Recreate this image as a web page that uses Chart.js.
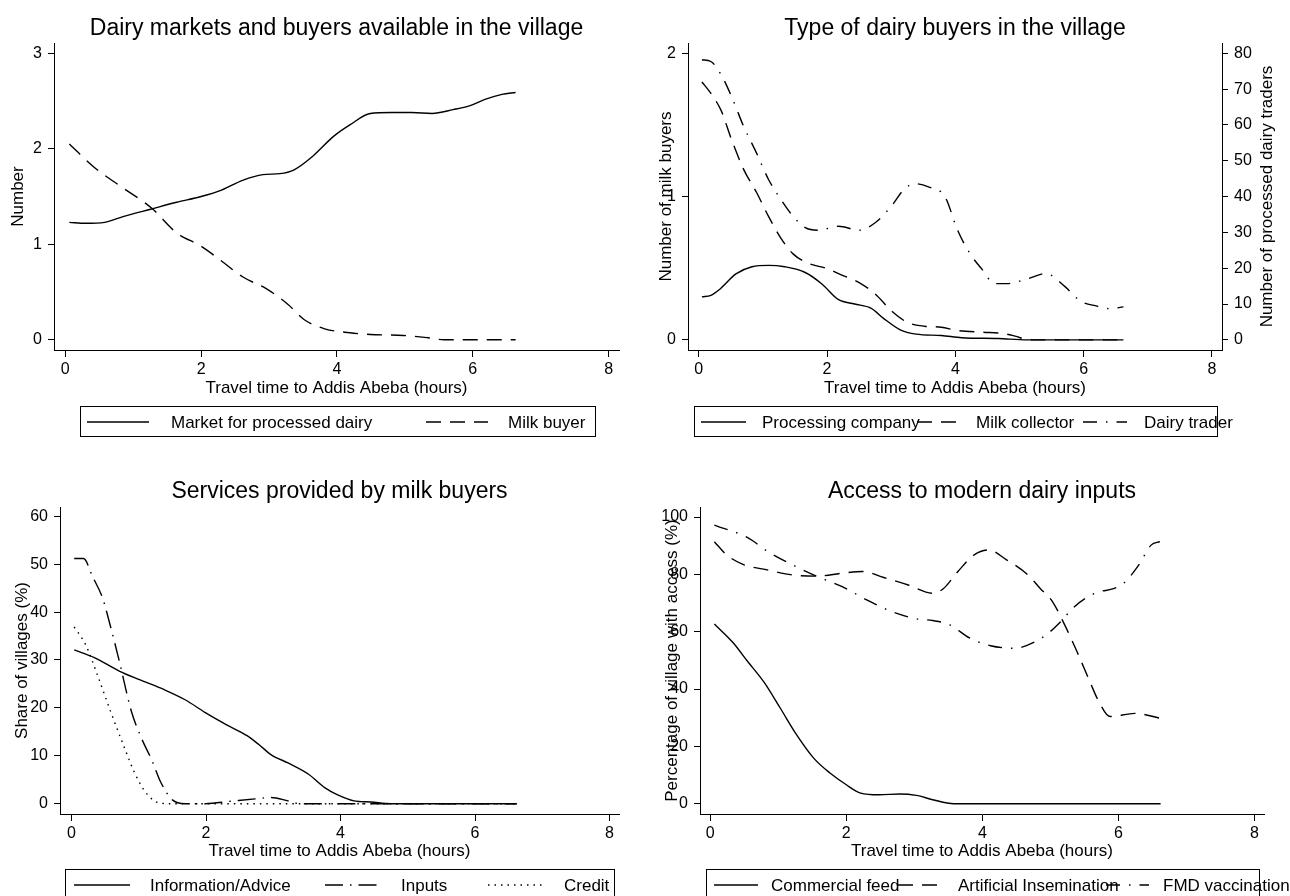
<!DOCTYPE html>
<html>
<head>
<meta charset="utf-8">
<script src="https://cdn.jsdelivr.net/npm/chart.js@4.4.1/dist/chart.umd.min.js"></script>
<style>
  html, body { margin: 0; padding: 0; background: #fff; }
  .board { position: relative; width: 1290px; height: 896px; overflow: hidden; }
  .board canvas { position: absolute; }
</style>
</head>
<body>
<div class="board">
  <canvas id="markets" width="645" height="448" style="left:0;top:0"></canvas>
  <canvas id="buyers" width="645" height="448" style="left:645px;top:0"></canvas>
  <canvas id="services" width="645" height="448" style="left:0;top:448px"></canvas>
  <canvas id="inputs" width="645" height="448" style="left:645px;top:448px"></canvas>
</div>
<script>
// ---- Shared axis ticks ----
const hourTicks = [0, 2, 4, 6, 8];
const numberTicks = [0, 1, 2, 3];
const buyerTicks = [0, 1, 2];
const traderTicks = [0, 10, 20, 30, 40, 50, 60, 70, 80];
const shareTicks = [0, 10, 20, 30, 40, 50, 60];
const pctTicks = [0, 20, 40, 60, 80, 100];

// ---- Dairy markets and buyers available in the village ----
const marketHours = [0.06, 0.30, 0.58, 0.85, 1.27, 1.64, 2.00, 2.31, 2.61, 2.91, 3.16, 3.37, 3.64, 3.95, 4.19, 4.49, 4.80, 5.10, 5.40, 5.71, 5.95, 6.19, 6.43, 6.63];
const marketProcessed = [1.23, 1.22, 1.23, 1.29, 1.37, 1.44, 1.50, 1.57, 1.67, 1.73, 1.74, 1.78, 1.92, 2.13, 2.25, 2.37, 2.38, 2.38, 2.37, 2.41, 2.45, 2.52, 2.57, 2.59];
const buyerHours = [0.06, 0.42, 0.85, 1.27, 1.64, 2.00, 2.31, 2.61, 2.97, 3.28, 3.52, 3.82, 4.19, 4.49, 4.98, 5.34, 5.58, 6.63];
const milkBuyer = [2.05, 1.81, 1.59, 1.38, 1.12, 0.98, 0.82, 0.66, 0.53, 0.37, 0.21, 0.115, 0.073, 0.056, 0.045, 0.021, 0, 0];

// ---- Type of dairy buyers in the village ----
const companyHours = [0.05, 0.19, 0.32, 0.58, 0.83, 1.09, 1.34, 1.66, 1.92, 2.18, 2.43, 2.69, 2.88, 3.14, 3.39, 3.78, 4.10, 4.67, 5.12, 6.62];
const processingCompany = [0.30, 0.31, 0.35, 0.46, 0.51, 0.52, 0.51, 0.47, 0.39, 0.28, 0.25, 0.22, 0.15, 0.07, 0.04, 0.03, 0.015, 0.009, 0, 0];
const collectorHours = [0.05, 0.19, 0.35, 0.51, 0.70, 0.90, 1.09, 1.28, 1.47, 1.73, 1.98, 2.24, 2.50, 2.75, 3.01, 3.26, 3.52, 3.78, 4.03, 4.42, 4.74, 4.93, 5.15, 6.62];
const milkCollector = [1.80, 1.72, 1.60, 1.40, 1.19, 1.03, 0.86, 0.71, 0.60, 0.53, 0.50, 0.45, 0.40, 0.32, 0.20, 0.12, 0.095, 0.088, 0.065, 0.053, 0.044, 0.026, 0, 0];
const traderHours = [0.05, 0.19, 0.35, 0.51, 0.70, 0.90, 1.09, 1.28, 1.47, 1.66, 1.86, 2.18, 2.50, 2.75, 3.01, 3.20, 3.36, 3.58, 3.84, 4.03, 4.22, 4.42, 4.61, 4.80, 5.12, 5.41, 5.70, 5.95, 6.21, 6.40, 6.62];
const dairyTrader = [78.2, 77.7, 74.0, 68.0, 59.6, 52.2, 44.7, 39.2, 34.5, 31.3, 30.6, 31.7, 30.6, 32.7, 37.5, 42.0, 43.6, 42.7, 39.9, 30.8, 24.3, 19.6, 15.7, 15.7, 17.0, 18.5, 15.0, 10.8, 9.4, 8.7, 9.2];

// ---- Services provided by milk buyers ----
const adviceHours = [0.04, 0.34, 0.71, 1.01, 1.38, 1.69, 1.99, 2.30, 2.61, 2.79, 2.97, 3.22, 3.53, 3.77, 3.95, 4.20, 4.45, 4.75, 6.62];
const informationAdvice = [32.1, 30.5, 27.7, 25.9, 23.8, 21.7, 19.0, 16.5, 14.2, 12.3, 10.2, 8.5, 6.1, 3.3, 1.9, 0.6, 0.35, 0, 0];
const inputHours = [0.04, 0.18, 0.31, 0.46, 0.58, 0.71, 0.89, 1.04, 1.20, 1.32, 1.50, 1.69, 1.99, 2.36, 2.73, 2.97, 3.22, 3.40, 6.62];
const inputsShare = [51.2, 51.2, 47.5, 43.0, 37.0, 29.8, 19.3, 13.7, 8.9, 4.7, 0.8, 0, 0, 0.5, 1.0, 1.3, 0.6, 0, 0];
const creditHours = [0.04, 0.21, 0.40, 0.58, 0.77, 0.95, 1.13, 1.32, 1.50, 6.62];
const creditShare = [36.9, 33.2, 26.3, 19.3, 12.3, 6.1, 1.9, 0.1, 0, 0];

// ---- Access to modern dairy inputs ----
const feedHours = [0.06, 0.33, 0.55, 0.79, 1.03, 1.27, 1.52, 1.76, 2.00, 2.21, 2.48, 2.79, 3.03, 3.27, 3.58, 6.62];
const commercialFeed = [62.7, 56.3, 49.6, 42.4, 33.3, 24.0, 15.9, 10.7, 6.6, 3.7, 3.1, 3.4, 2.9, 1.4, 0, 0];
const aiHours = [0.06, 0.24, 0.48, 0.85, 1.21, 1.58, 1.94, 2.24, 2.55, 2.91, 3.27, 3.42, 3.64, 3.88, 4.09, 4.36, 4.67, 4.85, 5.03, 5.21, 5.39, 5.58, 5.70, 5.88, 6.24, 6.62];
const artificialInsemination = [91.4, 86.8, 83.5, 81.5, 79.8, 79.4, 80.4, 81.0, 78.9, 76.3, 73.4, 74.9, 81.0, 86.8, 88.5, 85.0, 79.8, 75.1, 70.5, 62.4, 53.1, 42.6, 36.2, 30.4, 31.5, 29.8];
const fmdHours = [0.06, 0.55, 0.85, 1.21, 1.58, 1.94, 2.30, 2.67, 3.03, 3.27, 3.52, 3.82, 4.12, 4.48, 4.73, 4.97, 5.15, 5.33, 5.52, 5.70, 5.94, 6.09, 6.30, 6.48, 6.61];
const fmdVaccination = [97.2, 92.8, 87.9, 83.3, 79.2, 75.7, 71.1, 67.0, 64.5, 63.9, 62.4, 57.7, 55.1, 54.2, 56.0, 59.5, 63.5, 68.2, 71.7, 73.8, 75.1, 77.2, 83.3, 90.2, 91.4];

// ---- Styling ----
const FONT = '"Liberation Sans", Arial, Helvetica, sans-serif';
const INK = '#000';
const SOLID = [];
const DASH = [15, 9];
const DASH_DOT = [14, 9, 1.5, 9];
const LONGDASH_DOT = [18, 7, 1.5, 7];
const DOT = [1.5, 5];
const CANVAS_H = 448;
const CANVAS_W = 645;

Chart.defaults.font.family = FONT;
Chart.defaults.color = INK;

function series(label, xs, ys, dash, axis) {
  return {
    label,
    data: xs.map((x, i) => ({ x, y: ys[i] })),
    borderColor: INK,
    borderWidth: 1.4,
    borderDash: dash,
    pointRadius: 0,
    cubicInterpolationMode: 'monotone',
    fill: false,
    yAxisID: axis || 'y'
  };
}

function fixedTicks(values) {
  return scale => { scale.ticks = values.map(v => ({ value: v })); };
}

function hourAxis(min, max, plotBottom) {
  return {
    type: 'linear', min, max,
    afterBuildTicks: fixedTicks(hourTicks),
    afterFit: s => { s.height = CANVAS_H - plotBottom; },
    ticks: { font: { size: 16 }, color: INK, padding: 3, maxRotation: 0, autoSkip: false },
    grid: { drawOnChartArea: false, tickLength: 7, color: INK, lineWidth: 1 },
    border: { color: INK, width: 1 }
  };
}

function valueAxis(min, max, values, width, position) {
  return {
    type: 'linear', min, max, position: position || 'left',
    afterBuildTicks: fixedTicks(values),
    afterFit: s => { s.width = width; },
    ticks: { font: { size: 16 }, color: INK, padding: 6, autoSkip: false },
    grid: { drawOnChartArea: false, tickLength: 6, color: INK, lineWidth: 1 },
    border: { color: INK, width: 1 }
  };
}

// Titles, axis titles and the boxed legend under each panel
const frame = {
  id: 'frame',
  afterDraw(chart, args, o) {
    const ctx = chart.ctx, a = chart.chartArea;
    const cx = (a.left + a.right) / 2, cy = (a.top + a.bottom) / 2;
    ctx.save();
    ctx.fillStyle = INK;
    ctx.textAlign = 'center';
    ctx.textBaseline = 'alphabetic';
    ctx.font = '23px ' + FONT;
    ctx.fillText(o.title, cx, o.titleY);
    ctx.font = '17px ' + FONT;
    ctx.fillText(o.xTitle, cx, o.xTitleY);
    o.yTitles.forEach(t => {
      ctx.save();
      ctx.translate(t.x, cy);
      ctx.rotate(-Math.PI / 2);
      ctx.textBaseline = 'middle';
      ctx.fillText(t.text, 0, 0);
      ctx.restore();
    });
    // legend
    const L = o.legend;
    ctx.textAlign = 'left';
    ctx.strokeStyle = INK;
    chart.data.datasets.forEach((ds, i) => {
      const it = L.items[i];
      ctx.setLineDash(ds.borderDash || []);
      ctx.lineWidth = ds.borderWidth;
      ctx.beginPath();
      ctx.moveTo(it.s0, L.baseline - 6);
      ctx.lineTo(it.s1, L.baseline - 6);
      ctx.stroke();
      ctx.setLineDash([]);
      ctx.fillText(ds.label, it.t, L.baseline);
    });
    ctx.setLineDash([]);
    ctx.lineWidth = 1;
    ctx.strokeRect(L.box[0] + 0.5, L.box[1] + 0.5, L.box[2] - L.box[0], L.box[3] - L.box[1]);
    ctx.restore();
  }
};

function makeChart(id, datasets, scales, pad, frameOpts) {
  return new Chart(document.getElementById(id), {
    type: 'line',
    data: { datasets },
    options: {
      responsive: false,
      animation: false,
      devicePixelRatio: 1,
      layout: { padding: pad },
      scales,
      plugins: { legend: { display: false }, tooltip: { enabled: false }, title: { display: false }, frame: frameOpts }
    },
    plugins: [frame]
  });
}

// Panel 1
makeChart('markets',
  [series('Market for processed dairy', marketHours, marketProcessed, SOLID),
   series('Milk buyer', buyerHours, milkBuyer, DASH)],
  { x: hourAxis(-0.166, 8.153, 350), y: valueAxis(-0.107, 3.108, numberTicks, 54) },
  { top: 43, right: CANVAS_W - 619, left: 0, bottom: 0 },
  { title: 'Dairy markets and buyers available in the village', titleY: 35,
    xTitle: 'Travel time to Addis Abeba (hours)', xTitleY: 393,
    yTitles: [{ text: 'Number', x: 18 }],
    legend: { box: [80, 406, 595, 436], baseline: 428,
      items: [{ s0: 87, s1: 149, t: 171 }, { s0: 426, s1: 488, t: 508 }] } });

// Panel 2
makeChart('buyers',
  [series('Processing company', companyHours, processingCompany, SOLID),
   series('Milk collector', collectorHours, milkCollector, DASH),
   series('Dairy trader', traderHours, dairyTrader, DASH_DOT, 'y2')],
  { x: hourAxis(-0.167, 8.156, 350),
    y: valueAxis(-0.071, 2.072, buyerTicks, 43),
    y2: valueAxis(-2.84, 82.87, traderTicks, CANVAS_W - 577, 'right') },
  { top: 43, right: 0, left: 0, bottom: 0 },
  { title: 'Type of dairy buyers in the village', titleY: 35,
    xTitle: 'Travel time to Addis Abeba (hours)', xTitleY: 393,
    yTitles: [{ text: 'Number of milk buyers', x: 21 }, { text: 'Number of processed dairy traders', x: 622 }],
    legend: { box: [49, 406, 572, 436], baseline: 428,
      items: [{ s0: 56, s1: 101, t: 117 }, { s0: 272, s1: 317, t: 331 }, { s0: 438, s1: 482, t: 499 }] } });

// Panel 3
makeChart('services',
  [series('Information/Advice', adviceHours, informationAdvice, SOLID),
   series('Inputs', inputHours, inputsShare, LONGDASH_DOT),
   series('Credit', creditHours, creditShare, DOT)],
  { x: hourAxis(-0.171, 8.141, 366), y: valueAxis(-2.15, 61.94, shareTicks, 60) },
  { top: 59, right: CANVAS_W - 619, left: 0, bottom: 0 },
  { title: 'Services provided by milk buyers', titleY: 50,
    xTitle: 'Travel time to Addis Abeba (hours)', xTitleY: 408,
    yTitles: [{ text: 'Share of villages (%)', x: 22 }],
    legend: { box: [65, 421, 614, 470], baseline: 443,
      items: [{ s0: 74, s1: 130, t: 150 }, { s0: 325, s1: 383, t: 401 }, { s0: 488, s1: 544, t: 564 }] } });

// Panel 4
makeChart('inputs',
  [series('Commercial feed', feedHours, commercialFeed, SOLID),
   series('Artificial Insemination', aiHours, artificialInsemination, DASH),
   series('FMD vaccination', fmdHours, fmdVaccination, DASH_DOT)],
  { x: hourAxis(-0.151, 8.14, 366), y: valueAxis(-3.59, 103.5, pctTicks, 55) },
  { top: 59, right: CANVAS_W - 619, left: 0, bottom: 0 },
  { title: 'Access to modern dairy inputs', titleY: 50,
    xTitle: 'Travel time to Addis Abeba (hours)', xTitleY: 408,
    yTitles: [{ text: 'Percentage of village with access (%)', x: 27 }],
    legend: { box: [61, 421, 614, 470], baseline: 443,
      items: [{ s0: 69, s1: 113, t: 126 }, { s0: 253, s1: 296, t: 313 }, { s0: 461, s1: 504, t: 518 }] } });
</script>
</body>
</html>
